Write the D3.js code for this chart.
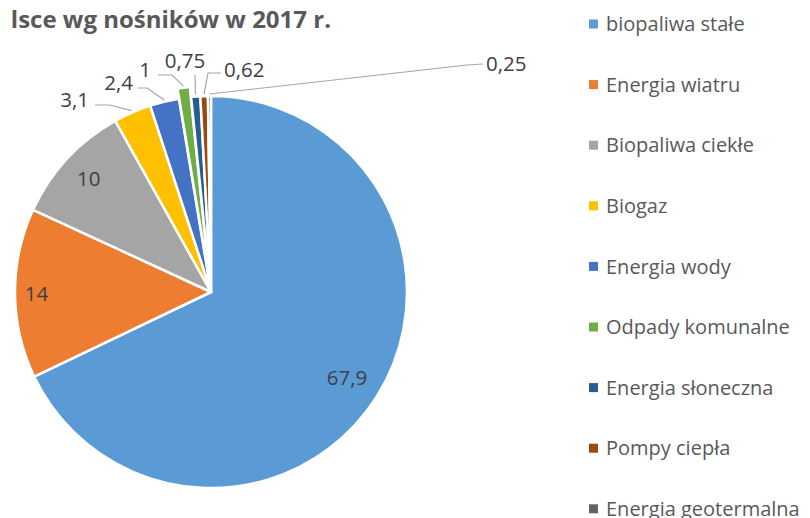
<!DOCTYPE html>
<html>
<head>
<meta charset="utf-8">
<script src="https://cdn.jsdelivr.net/npm/d3@7"></script>
<style>
  body { margin: 0; background: #fff; }
  svg { display: block; font-family: "Open Sans", sans-serif; }
  .title { font-weight: bold; fill: #595959; }
  .legend text { fill: #595959; }
  .label { fill: #404040; }
  .leader { fill: none; stroke: #a6a6a6; stroke-width: 1.2; }
</style>
</head>
<body>
<svg id="Vis" width="810" height="518"></svg>
<script>
/*
* DATA
*/
const categories = [
  "biopaliwa stałe", "Energia wiatru", "Biopaliwa ciekłe", "Biogaz",
  "Energia wody", "Odpady komunalne", "Energia słoneczna", "Pompy ciepła",
  "Energia geotermalna"
];
const shares = [67.9, 14, 10, 3.1, 2.4, 1, 0.75, 0.62, 0.25];
const shareLabels = ["67,9", "14", "10", "3,1", "2,4", "1", "0,75", "0,62", "0,25"];
const colors = [
  "#5b9bd5", "#ed7d31", "#a5a5a5", "#ffc000", "#4472c4",
  "#70ad47", "#255e91", "#9e480e", "#636363"
];

/*
* LAYOUT
*/
const cx = 211, cy = 292, radius = 196;
const explode = { "Odpady komunalne": 10 };

// labels drawn inside the slice, as fraction of the radius
const insideLabel = { "biopaliwa stałe": 0.82, "Energia wiatru": 0.89, "Biopaliwa ciekłe": 0.85 };

// labels drawn outside with a leader line: text point, line start, elbow
const outsideLabel = {
  "Biogaz":              { x: 89,  y: 100, anchor: "end",    start: [95, 105],  elbow: [110, 105] },
  "Energia wody":        { x: 133, y: 83,  anchor: "end",    start: [138, 88],  elbow: [147, 88] },
  "Odpady komunalne":    { x: 151, y: 70,  anchor: "end",    start: [158, 75],  elbow: [172, 75] },
  "Energia słoneczna":   { x: 185, y: 61,  anchor: "middle", start: [195, 75],  elbow: [195, 75] },
  "Pompy ciepła":        { x: 224, y: 70,  anchor: "start",  start: [221, 73],  elbow: [208, 73] },
  "Energia geotermalna": { x: 486, y: 64,  anchor: "start",  start: [483, 64],  elbow: [467, 65] }
};

const svg = d3.select("svg#Vis");

const g = {
  title: svg.append("g").attr("id", "title"),
  pie: svg.append("g").attr("id", "pie").attr("transform", translate(cx, cy)),
  leaders: svg.append("g").attr("id", "leaders"),
  labels: svg.append("g").attr("id", "labels"),
  legend: svg.append("g").attr("class", "legend")
};

const data = categories.map((c, i) => ({ name: c, value: shares[i], label: shareLabels[i] }));

const color = d3.scaleOrdinal().domain(categories).range(colors);

/*
* TITLE
*/
g.title.append("text")
  .attr("class", "title")
  .attr("x", 331)
  .attr("y", 28)
  .attr("text-anchor", "end")
  .style("font-size", "24px")
  .text("lsce wg nośników w 2017 r.");

/*
* PIE
*/
const pie = d3.pie().sort(null).value(d => d.value);
const arcs = pie(data);

const arc = d3.arc().innerRadius(0).outerRadius(radius);

function mid(d) { return (d.startAngle + d.endAngle) / 2; }
function offset(d) { return explode[d.data.name] || 0; }

g.pie.selectAll("path.slice")
  .data(arcs)
  .join("path")
    .attr("class", "slice")
    .attr("d", arc)
    .attr("transform", d => {
      const a = mid(d), o = offset(d);
      return translate(Math.sin(a) * o, -Math.cos(a) * o);
    })
    .style("fill", d => color(d.data.name))
    .style("stroke", "#fff")
    .style("stroke-width", 2.5)
    .style("stroke-linejoin", "round");

/* inside labels */
g.labels.selectAll("text.inside")
  .data(arcs.filter(d => insideLabel[d.data.name]))
  .join("text")
    .attr("class", "label inside")
    .attr("x", d => cx + Math.sin(mid(d)) * radius * insideLabel[d.data.name])
    .attr("y", d => cy - Math.cos(mid(d)) * radius * insideLabel[d.data.name])
    .attr("dy", "0.36em")
    .attr("text-anchor", "middle")
    .style("font-size", "20.5px")
    .text(d => d.data.label);

/* outside labels + leader lines */
const outside = arcs.filter(d => outsideLabel[d.data.name]);

g.leaders.selectAll("path.leader")
  .data(outside)
  .join("path")
    .attr("class", "leader")
    .attr("d", d => {
      const o = outsideLabel[d.data.name];
      const r = radius + offset(d) + 2;
      const edge = [cx + Math.sin(mid(d)) * r, cy - Math.cos(mid(d)) * r];
      return d3.line()([o.start, o.elbow, edge]);
    });

g.labels.selectAll("text.outside")
  .data(outside)
  .join("text")
    .attr("class", "label outside")
    .attr("x", d => outsideLabel[d.data.name].x)
    .attr("y", d => outsideLabel[d.data.name].y)
    .attr("dy", "0.36em")
    .attr("text-anchor", d => outsideLabel[d.data.name].anchor)
    .style("font-size", "20.5px")
    .text(d => d.data.label);

/*
* LEGEND
*/
const legendY = d3.scalePoint().domain(categories).range([24, 508.8]);

const item = g.legend.selectAll("g.item")
  .data(categories)
  .join("g")
    .attr("class", "item")
    .attr("transform", d => translate(589, legendY(d)));

item.append("rect")
  .attr("x", 0)
  .attr("y", -4.5)
  .attr("width", 9)
  .attr("height", 9)
  .style("fill", d => color(d));

item.append("text")
  .attr("x", 17)
  .attr("y", 0)
  .attr("dy", "0.36em")
  .style("font-size", "20px")
  .text(d => d);

/*
* HELPER FUNCTIONS
*/
function translate(x, y) {
  return "translate(" + String(x) + "," + String(y) + ")";
}
</script>
</body>
</html>
